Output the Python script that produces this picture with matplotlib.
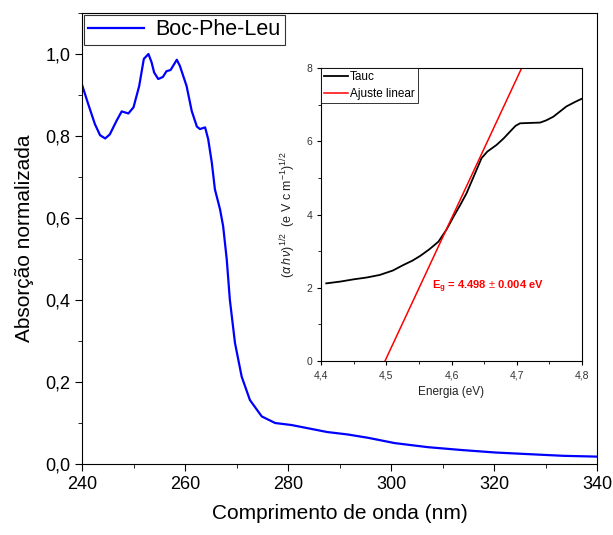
import matplotlib
matplotlib.use("Agg")
import matplotlib.pyplot as plt
from matplotlib.ticker import MultipleLocator

plt.rcParams['font.family'] = ['Liberation Sans', 'DejaVu Sans']
plt.rcParams['mathtext.fontset'] = 'custom'
plt.rcParams['mathtext.rm'] = 'Liberation Sans'
plt.rcParams['mathtext.it'] = 'Liberation Sans:italic'
plt.rcParams['mathtext.bf'] = 'Liberation Sans:bold'

# absorption spectrum
wl = [240.0, 241.2, 242.5, 243.5, 244.5, 245.4, 246.7, 247.7, 249.0, 250.0,
      251.1, 252.0, 252.9, 253.5, 254.0, 254.8, 255.7, 256.4, 257.2, 258.4,
      259.0, 260.3, 261.3, 262.3, 262.9, 263.9, 264.5, 265.2, 265.8, 266.8,
      267.4, 268.1, 268.7, 269.7, 271.0, 272.6, 274.9, 277.5, 280.7, 287.6,
      291.6, 295.5, 300.7, 307.2, 313.8, 320.3, 326.8, 333.4, 340.0]
absn = [0.925, 0.878, 0.829, 0.802, 0.794, 0.804, 0.837, 0.860, 0.855, 0.870,
        0.922, 0.988, 1.000, 0.980, 0.955, 0.939, 0.944, 0.958, 0.961, 0.986,
        0.971, 0.922, 0.861, 0.823, 0.817, 0.821, 0.792, 0.735, 0.670, 0.621,
        0.580, 0.499, 0.401, 0.295, 0.213, 0.156, 0.116, 0.100, 0.095, 0.078,
        0.072, 0.064, 0.051, 0.041, 0.034, 0.028, 0.024, 0.020, 0.018]

# Tauc plot (inset)
energy = [4.408, 4.43, 4.45, 4.47, 4.49, 4.51, 4.526, 4.54, 4.552, 4.566,
          4.58, 4.592, 4.603, 4.613, 4.623, 4.635, 4.646, 4.655, 4.669, 4.68,
          4.69, 4.698, 4.705, 4.72, 4.736, 4.745, 4.756, 4.776, 4.79, 4.802]
tauc = [2.12, 2.17, 2.23, 2.28, 2.35, 2.47, 2.62, 2.74, 2.87, 3.05,
        3.26, 3.58, 3.94, 4.25, 4.58, 5.08, 5.54, 5.72, 5.90, 6.08,
        6.27, 6.42, 6.49, 6.50, 6.51, 6.57, 6.67, 6.95, 7.08, 7.18]
fit_e = [4.498, 4.7075]
fit_y = [0.0, 8.0]

xticks_main = [240, 260, 280, 300, 320, 340]
yticks_main = [0.0, 0.2, 0.4, 0.6, 0.8, 1.0]
yticklabels_main = ['0,0', '0,2', '0,4', '0,6', '0,8', '1,0']
xticks_in = [4.4, 4.5, 4.6, 4.7, 4.8]
xticklabels_in = ['4,4', '4,5', '4,6', '4,7', '4,8']
yticks_in = [0, 2, 4, 6, 8]

fig = plt.figure(figsize=(6.13, 5.35), dpi=100)
ax = fig.add_axes([0.1338, 0.1327, 0.8402, 0.843])
ax.plot(wl, absn, color='#0000ff', lw=1.6, label='Boc-Phe-Leu')
ax.set_xlim(240, 340)
ax.set_ylim(0, 1.1)
ax.set_xticks(xticks_main)
ax.set_yticks(yticks_main)
ax.set_yticklabels(yticklabels_main)
ax.xaxis.set_minor_locator(MultipleLocator(10))
ax.yaxis.set_minor_locator(MultipleLocator(0.1))
ax.tick_params(which='both', direction='out', labelsize=13, top=False, right=False)
ax.tick_params(which='major', length=5)
ax.tick_params(which='minor', length=3)
ax.set_xlabel('Comprimento de onda (nm)', fontsize=15, labelpad=8)
ax.set_ylabel('Absorção normalizada', fontsize=15, labelpad=8)
leg = ax.legend(loc='upper left', fontsize=15.5, frameon=True, fancybox=False,
                handlelength=2.6, borderaxespad=0.1, borderpad=0.2,
                handletextpad=0.5)
leg.get_frame().set_edgecolor('black')
leg.get_frame().set_linewidth(0.8)

# inset
ins = fig.add_axes([0.5237, 0.3252, 0.4258, 0.5477])
ins.plot(energy, tauc, color='black', lw=1.3, label='Tauc')
ins.plot(fit_e, fit_y, color='#ff0000', lw=1.1, label='Ajuste linear')
ins.set_xlim(4.4, 4.8)
ins.set_ylim(0, 8)
ins.set_xticks(xticks_in)
ins.set_xticklabels(xticklabels_in)
ins.set_yticks(yticks_in)
ins.xaxis.set_minor_locator(MultipleLocator(0.05))
ins.yaxis.set_minor_locator(MultipleLocator(1))
ins.tick_params(which='both', direction='out', labelsize=7.5, top=False, right=False,
                labelcolor='#333333')
ins.tick_params(which='major', length=3)
ins.tick_params(which='minor', length=2)
ins.set_xlabel('Energia (eV)', fontsize=8.5, color='#222222')
ins.set_ylabel(r'$(\alpha\,h\,\nu)^{1/2}$  (e V c m$^{-1}$)$^{1/2}$', fontsize=9,
               color='#222222', labelpad=6)
ins.text(4.57, 2.03, r'E$_\mathbf{g}$ = 4.498 $\pm$ 0.004 eV', color='#ff0000',
         fontsize=8, fontweight='bold', va='center', ha='left')
leg2 = ins.legend(loc='upper left', fontsize=8.5, frameon=True, fancybox=False,
                  handlelength=2.0, borderaxespad=0.0, borderpad=0.25,
                  handletextpad=0.2, labelspacing=0.45)
leg2.get_frame().set_edgecolor('black')
leg2.get_frame().set_linewidth(0.7)

fig.savefig('out.png', dpi=100)
